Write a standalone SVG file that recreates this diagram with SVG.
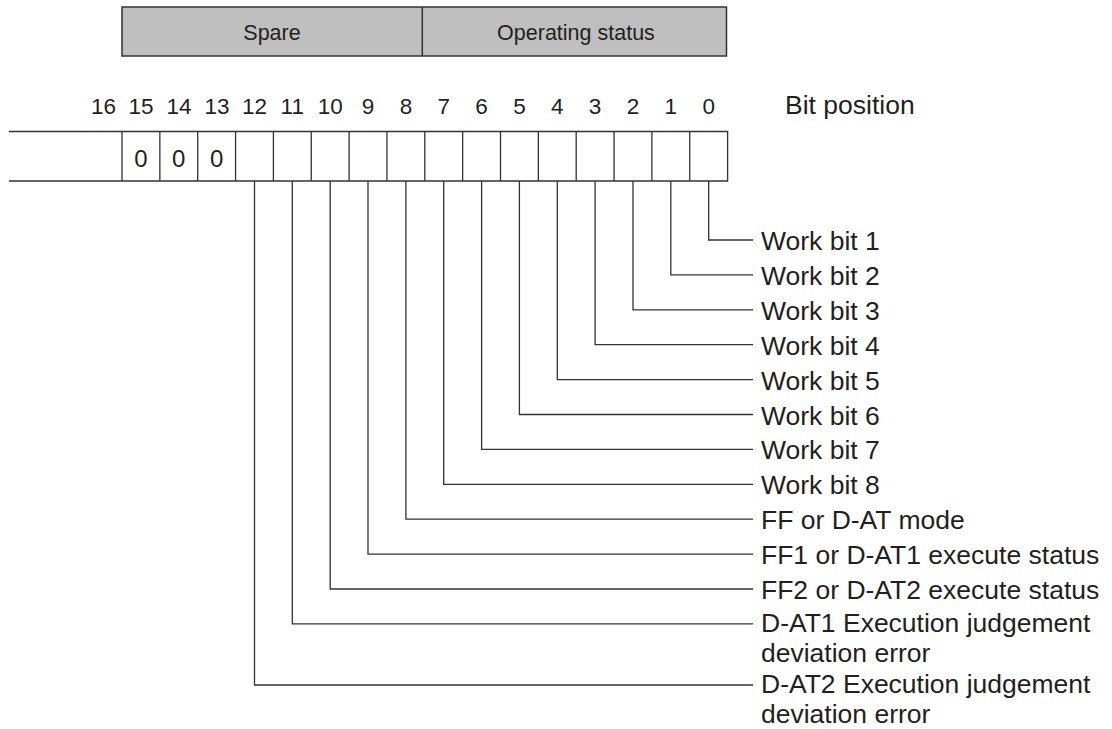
<svg xmlns="http://www.w3.org/2000/svg" width="1112" height="729" viewBox="0 0 1112 729">
<style>
text{font-family:"Liberation Sans",Arial,sans-serif;fill:#231f20}
.hdr{font-size:21.5px;text-anchor:middle}
.bn{font-size:22.5px;text-anchor:middle}
.z{font-size:24px;text-anchor:middle}
.lb{font-size:26.5px}
.ln{fill:none;stroke:#333;stroke-width:1.3}
.box{fill:#bfbfbf;stroke:#333;stroke-width:1.5}
</style>
<rect width="1112" height="729" fill="#fff"/>
<g id="header">
<rect class="box" x="122" y="7" width="604.5" height="49"/>
<line class="ln" x1="422.3" y1="7" x2="422.3" y2="56" style="stroke-width:1.5"/>
<text class="hdr" x="272" y="40">Spare</text>
<text class="hdr" x="576" y="40">Operating status</text>
</g>
<g id="bitnumbers">
<text class="bn" x="103.5" y="113.5">16</text>
<text class="bn" x="141" y="113.5">15</text>
<text class="bn" x="179" y="113.5">14</text>
<text class="bn" x="217" y="113.5">13</text>
<text class="bn" x="254.5" y="113.5">12</text>
<text class="bn" x="292.3" y="113.5">11</text>
<text class="bn" x="330.2" y="113.5">10</text>
<text class="bn" x="368" y="113.5">9</text>
<text class="bn" x="405.9" y="113.5">8</text>
<text class="bn" x="443.7" y="113.5">7</text>
<text class="bn" x="481.6" y="113.5">6</text>
<text class="bn" x="519.4" y="113.5">5</text>
<text class="bn" x="557.3" y="113.5">4</text>
<text class="bn" x="595.1" y="113.5">3</text>
<text class="bn" x="633" y="113.5">2</text>
<text class="bn" x="670.8" y="113.5">1</text>
<text class="bn" x="708.7" y="113.5">0</text>
<text class="lb" x="785" y="114">Bit position</text>
</g>
<g id="register">
<path class="ln" d="M9 131.5H727.6V181H9"/>
<path class="ln" d="M122 131.5V181M159.85 131.5V181M197.7 131.5V181M235.55 131.5V181M273.4 131.5V181M311.25 131.5V181M349.1 131.5V181M386.95 131.5V181M424.8 131.5V181M462.65 131.5V181M500.5 131.5V181M538.35 131.5V181M576.2 131.5V181M614.05 131.5V181M651.9 131.5V181M689.75 131.5V181"/>
<text class="z" x="141" y="166.5">0</text>
<text class="z" x="178.8" y="166.5">0</text>
<text class="z" x="216.6" y="166.5">0</text>
</g>
<g id="connectors">
<path class="ln" d="M708.7 181V240H753"/>
<path class="ln" d="M670.8 181V274.9H753"/>
<path class="ln" d="M633 181V309.8H753"/>
<path class="ln" d="M595.1 181V344.7H753"/>
<path class="ln" d="M557.3 181V379.6H753"/>
<path class="ln" d="M519.4 181V414.5H753"/>
<path class="ln" d="M481.6 181V449.4H753"/>
<path class="ln" d="M443.7 181V484.3H753"/>
<path class="ln" d="M405.9 181V519.2H753"/>
<path class="ln" d="M368 181V554.1H753"/>
<path class="ln" d="M330.2 181V589H753"/>
<path class="ln" d="M292.3 181V623.9H753"/>
<path class="ln" d="M254.5 181V685H753"/>
</g>
<g id="labels">
<text class="lb" x="761" y="250">Work bit 1</text>
<text class="lb" x="761" y="284.9">Work bit 2</text>
<text class="lb" x="761" y="319.8">Work bit 3</text>
<text class="lb" x="761" y="354.7">Work bit 4</text>
<text class="lb" x="761" y="389.6">Work bit 5</text>
<text class="lb" x="761" y="424.5">Work bit 6</text>
<text class="lb" x="761" y="459.4">Work bit 7</text>
<text class="lb" x="761" y="494.3">Work bit 8</text>
<text class="lb" x="761" y="529.2">FF or D-AT mode</text>
<text class="lb" x="761" y="564.1">FF1 or D-AT1 execute status</text>
<text class="lb" x="761" y="599">FF2 or D-AT2 execute status</text>
<text class="lb" x="761" y="631.8"><tspan x="761">D-AT1 Execution judgement</tspan><tspan x="761" dy="30">deviation error</tspan></text>
<text class="lb" x="761" y="692.6"><tspan x="761">D-AT2 Execution judgement</tspan><tspan x="761" dy="30">deviation error</tspan></text>
</g>
</svg>
